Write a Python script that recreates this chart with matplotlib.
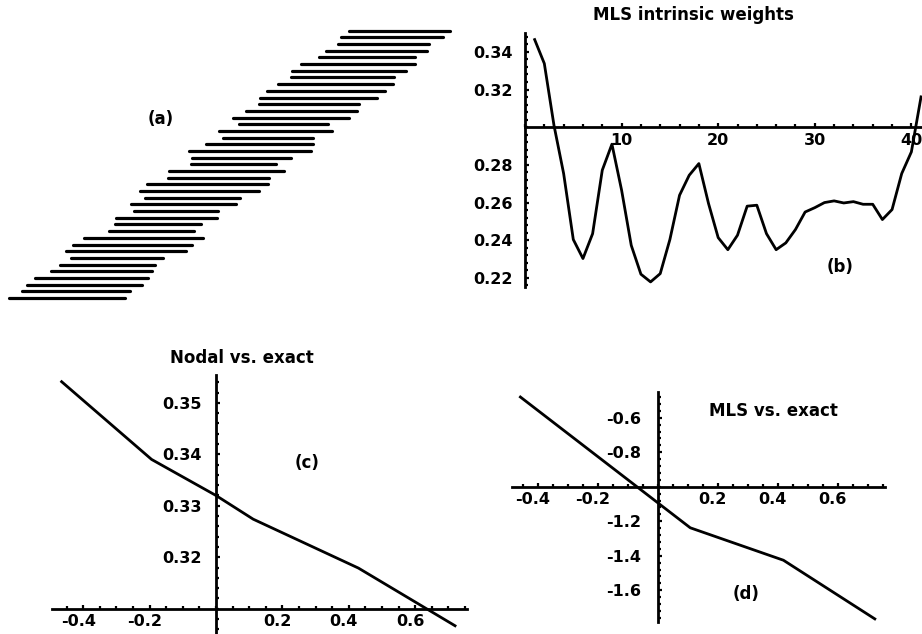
import matplotlib
matplotlib.use("Agg")
import matplotlib.pyplot as plt
import matplotlib.transforms as mtransforms
from matplotlib.ticker import FixedLocator, MultipleLocator
import numpy as np

plt.rcParams['font.family'] = ['DejaVu Sans']
plt.rcParams['font.weight'] = 'bold'
plt.rcParams['axes.unicode_minus'] = False

# (a) node supports: left / right ends, bottom row first
seg_left = [9.3, 22, 27.3, 35.3, 50.7, 60, 70.7, 66, 72.7, 83.7, 108.7,
            115.3, 116, 134, 131.3, 145, 140.3, 147, 167.7, 168.7, 191,
            192, 189, 205.7, 222.7, 219.3, 239.3, 232.7, 246, 259.3, 259.7,
            266.7, 277.7, 291, 292.3, 300.7, 319, 326.3, 338.3, 341, 349.3]
seg_right = [125.3, 130, 142.3, 148.3, 152.3, 155.3, 163.3, 185.7, 191.7,
             203, 194, 201.3, 216.7, 218, 236.3, 239.7, 259, 268, 268.7,
             283.7, 276.3, 291, 311, 312.7, 313.3, 332.3, 327.7, 349, 357.3,
             358.7, 377.3, 385, 392.7, 394, 405.7, 414.7, 415, 426.7, 429.3,
             443.3, 450]

# (b) MLS intrinsic weights, nodes 1..41
node = list(range(1, 42))
weights = [0.3465, 0.3338, 0.3010, 0.2754, 0.2404, 0.2303, 0.2435, 0.2772,
           0.2910, 0.2666, 0.2373, 0.2220, 0.2179, 0.2223, 0.2404, 0.2639,
           0.2745, 0.2807, 0.2595, 0.2414, 0.2350, 0.2427, 0.2581, 0.2586,
           0.2435, 0.2350, 0.2386, 0.2457, 0.2550, 0.2573, 0.2600, 0.2609,
           0.2598, 0.2605, 0.2591, 0.2591, 0.2510, 0.2563, 0.2754, 0.2869,
           0.3161]

# (c) Nodal vs. exact
nodal_x = [-0.465, -0.194, 0.0, 0.112, 0.429, 0.72]
nodal_y = [0.3541, 0.3390, 0.3320, 0.3274, 0.3179, 0.3067]

# (d) MLS vs. exact
mls_x = [-0.459, 0.108, 0.419, 0.724]
mls_y = [-0.48, -1.238, -1.426, -1.766]

W, H = 922, 634
fig = plt.figure(figsize=(W / 100, H / 100), dpi=100)


def px_axes(l, t, r, b):
    return fig.add_axes([l / W, 1 - b / H, (r - l) / W, (b - t) / H])


def px_text(x, y, s, size=12):
    fig.text(x / W, 1 - y / H, s, ha='center', va='center',
             fontsize=size, fontweight='bold')


def math_axes(ax, x0, y0, ypad=4, xshift=0):
    for s in ['top', 'right']:
        ax.spines[s].set_visible(False)
    ax.spines['left'].set_position(('data', x0))
    ax.spines['bottom'].set_position(('data', y0))
    for s in ['left', 'bottom']:
        ax.spines[s].set_linewidth(2.0)
    ax.patch.set_alpha(0)
    ax.tick_params(which='both', direction='in', width=1.6,
                   labelsize=11.5)
    ax.tick_params(which='major', length=3)
    ax.tick_params(which='minor', length=2.5)
    ax.tick_params(axis='x', pad=4)
    ax.tick_params(axis='y', pad=ypad)
    off = mtransforms.ScaledTranslation(xshift / 100, 0, fig.dpi_scale_trans)
    for lab in ax.get_xticklabels():
        lab.set_fontweight('bold')
        lab.set_transform(lab.get_transform() + off)
    for lab in ax.get_yticklabels():
        lab.set_fontweight('bold')


# panel (a)
ax_a = px_axes(0, 0, 460, 320)
rows = np.arange(len(seg_left))
ax_a.hlines(rows, seg_left, seg_right, color='black', lw=2.3,
            capstyle='round')
ax_a.set_xlim(0, 460)
ax_a.set_ylim(-3.3, 44.6)
ax_a.axis('off')
px_text(161, 119, '(a)')

# panel (b)
ax_b = px_axes(525, 33, 922, 287)
ax_b.plot(node, weights, color='black', lw=2.0)
ax_b.set_xlim(0, 41.1)
ax_b.set_ylim(0.2152, 0.350)
ax_b.xaxis.set_major_locator(FixedLocator([10, 20, 30, 40]))
ax_b.xaxis.set_minor_locator(MultipleLocator(2))
ax_b.yaxis.set_major_locator(FixedLocator([0.22, 0.24, 0.26, 0.28, 0.32, 0.34]))
ax_b.yaxis.set_minor_locator(MultipleLocator(0.004))
ax_b.set_yticklabels(['0.22', '0.24', '0.26', '0.28', '0.32', '0.34'])
math_axes(ax_b, 0, 0.30, ypad=9)
px_text(693, 15, 'MLS intrinsic weights')
px_text(840, 267, '(b)')

# panel (c)
ax_c = px_axes(52, 375, 467, 634)
ax_c.plot(nodal_x, nodal_y, color='black', lw=2.0)
ax_c.set_xlim(-0.494, 0.756)
ax_c.set_ylim(0.3051, 0.3554)
ax_c.xaxis.set_major_locator(FixedLocator([-0.4, -0.2, 0.2, 0.4, 0.6]))
ax_c.xaxis.set_minor_locator(MultipleLocator(0.05))
ax_c.set_xticklabels(['-0.4', '-0.2', '0.2', '0.4', '0.6'])
ax_c.yaxis.set_major_locator(FixedLocator([0.32, 0.33, 0.34, 0.35]))
ax_c.yaxis.set_minor_locator(MultipleLocator(0.002))
ax_c.set_yticklabels(['0.32', '0.33', '0.34', '0.35'])
math_axes(ax_c, 0, 0.31, ypad=10, xshift=-5)
px_text(242, 358, 'Nodal vs. exact')
px_text(307, 463, '(c)')

# panel (d)
ax_d = px_axes(512, 392, 885, 622)
ax_d.plot(mls_x, mls_y, color='black', lw=2.0)
ax_d.set_xlim(-0.487, 0.758)
ax_d.set_ylim(-1.784, -0.451)
ax_d.xaxis.set_major_locator(FixedLocator([-0.4, -0.2, 0.2, 0.4, 0.6]))
ax_d.xaxis.set_minor_locator(MultipleLocator(0.05))
ax_d.set_xticklabels(['-0.4', '-0.2', '0.2', '0.4', '0.6'])
ax_d.yaxis.set_major_locator(FixedLocator([-1.6, -1.4, -1.2, -0.8, -0.6]))
ax_d.yaxis.set_minor_locator(MultipleLocator(0.04))
ax_d.set_yticklabels(['-1.6', '-1.4', '-1.2', '-0.8', '-0.6'])
math_axes(ax_d, 0, -1.0, ypad=12, xshift=-5)
px_text(773, 411, 'MLS vs. exact')
px_text(746, 594, '(d)')

plt.savefig('out.png', dpi=100)
